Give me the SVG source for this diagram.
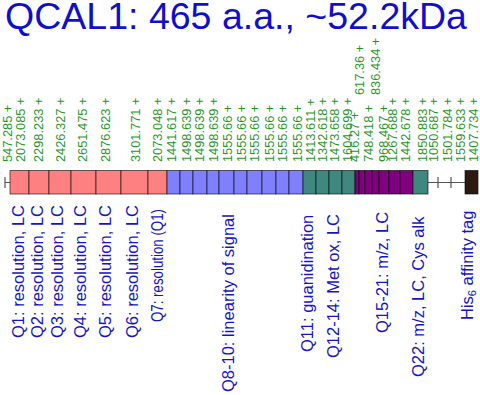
<svg xmlns="http://www.w3.org/2000/svg" width="480" height="395" viewBox="0 0 480 395">
<style>
.t{font-family:"Liberation Sans",Arial,sans-serif;font-size:36px;fill:#1010c8}
.g{font-family:"Liberation Sans",Arial,sans-serif;font-size:12.8px;fill:#1f951f}
.b{font-family:"Liberation Sans",Arial,sans-serif;font-size:16.5px;fill:#1414c8}
.seg rect{stroke:#000;stroke-opacity:0.6;stroke-width:1}
.pk{fill:#ff8080}.bl{fill:#8080ff}.tl{fill:#3f8880}.pu{fill:#800080}.hs{fill:#2b1a0d}
.ln{stroke:#555;stroke-width:1.2;fill:none}
</style>
<rect width="480" height="395" fill="#fff"/>
<text class="t" x="5" y="29" textLength="462" lengthAdjust="spacingAndGlyphs">QCAL1: 465 a.a., ~52.2kDa</text>

<g id="connectors">
<path class="ln" d="M5,177V188M5,182.5H10"/>
<path class="ln" d="M428,182.5H465M438,177V188M451,177V188"/>
</g>

<g class="seg">
<g id="q1"><rect class="pk" x="10" y="170.5" width="19" height="23.5"/></g>
<g id="q2"><rect class="pk" x="29" y="170.5" width="20" height="23.5"/></g>
<g id="q3"><rect class="pk" x="49" y="170.5" width="22" height="23.5"/></g>
<g id="q4"><rect class="pk" x="71" y="170.5" width="25" height="23.5"/></g>
<g id="q5"><rect class="pk" x="96" y="170.5" width="25" height="23.5"/></g>
<g id="q6"><rect class="pk" x="121" y="170.5" width="27" height="23.5"/></g>
<g id="q7"><rect class="pk" x="148" y="170.5" width="19" height="23.5"/></g>
<g id="q8-10">
<rect class="bl" x="167" y="170.5" width="13" height="23.5"/>
<rect class="bl" x="180" y="170.5" width="13" height="23.5"/>
<rect class="bl" x="193" y="170.5" width="14" height="23.5"/>
<rect class="bl" x="207" y="170.5" width="12" height="23.5"/>
<rect class="bl" x="219" y="170.5" width="15" height="23.5"/>
<rect class="bl" x="234" y="170.5" width="13" height="23.5"/>
<rect class="bl" x="247" y="170.5" width="15" height="23.5"/>
<rect class="bl" x="262" y="170.5" width="14" height="23.5"/>
<rect class="bl" x="276" y="170.5" width="13" height="23.5"/>
<rect class="bl" x="289" y="170.5" width="14" height="23.5"/>
</g>
<g id="q11"><rect class="tl" x="303" y="170.5" width="13" height="23.5"/></g>
<g id="q12-14">
<rect class="tl" x="316" y="170.5" width="13" height="23.5"/>
<rect class="tl" x="329" y="170.5" width="13" height="23.5"/>
<rect class="tl" x="342" y="170.5" width="13" height="23.5"/>
</g>
<g id="q15-21">
<rect class="pu" x="355" y="170.5" width="4" height="23.5"/>
<rect class="pu" x="359" y="170.5" width="6" height="23.5"/>
<rect class="pu" x="365" y="170.5" width="7" height="23.5"/>
<rect class="pu" x="372" y="170.5" width="7" height="23.5"/>
<rect class="pu" x="379" y="170.5" width="10" height="23.5"/>
<rect class="pu" x="389" y="170.5" width="11" height="23.5"/>
<rect class="pu" x="400" y="170.5" width="13" height="23.5"/>
</g>
<g id="q22"><rect class="tl" x="413" y="170.5" width="15" height="23.5"/></g>
<g id="his6"><rect class="hs" x="465" y="170.5" width="13" height="23.5"/></g>
</g>

<g id="masses">
<text class="g" transform="translate(12.3,162) rotate(-90)">547.285 +</text>
<text class="g" transform="translate(24.5,162) rotate(-90)">2073.085 +</text>
<text class="g" transform="translate(42.5,162) rotate(-90)">2298.233 +</text>
<text class="g" transform="translate(64.5,162) rotate(-90)">2426.327 +</text>
<text class="g" transform="translate(86.5,162) rotate(-90)">2651.475 +</text>
<text class="g" transform="translate(109.5,162) rotate(-90)">2876.623 +</text>
<text class="g" transform="translate(139.5,162) rotate(-90)">3101.771 +</text>
<text class="g" transform="translate(161.5,162) rotate(-90)">2073.048 +</text>
<text class="g" transform="translate(175.5,162) rotate(-90)">1441.617 +</text>
<text class="g" transform="translate(190.5,162) rotate(-90)">1498.639 +</text>
<text class="g" transform="translate(203.5,162) rotate(-90)">1498.639 +</text>
<text class="g" transform="translate(217.5,162) rotate(-90)">1498.639 +</text>
<text class="g" transform="translate(231.5,162) rotate(-90)">1555.66 +</text>
<text class="g" transform="translate(245.5,162) rotate(-90)">1555.66 +</text>
<text class="g" transform="translate(258.5,162) rotate(-90)">1555.66 +</text>
<text class="g" transform="translate(273.5,162) rotate(-90)">1555.66 +</text>
<text class="g" transform="translate(286.5,162) rotate(-90)">1555.66 +</text>
<text class="g" transform="translate(301.5,162) rotate(-90)">1555.66 +</text>
<text class="g" transform="translate(314.5,162) rotate(-90)">1413.611 +</text>
<text class="g" transform="translate(326.5,162) rotate(-90)">1342.618 +</text>
<text class="g" transform="translate(338.5,162) rotate(-90)">1473.658 +</text>
<text class="g" transform="translate(352,162) rotate(-90)">1604.699 +</text>
<text class="g" transform="translate(358.5,162) rotate(-90)">416.27 +</text>
<text class="g" transform="translate(363.5,95) rotate(-90)">617.36 +</text>
<text class="g" transform="translate(372.5,162) rotate(-90)">748.418 +</text>
<text class="g" transform="translate(379.5,95) rotate(-90)">836.434 +</text>
<text class="g" transform="translate(387.5,162) rotate(-90)">968.467 +</text>
<text class="g" transform="translate(396.5,162) rotate(-90)">1267.688 +</text>
<text class="g" transform="translate(409.5,162) rotate(-90)">1442.678 +</text>
<text class="g" transform="translate(426.5,162) rotate(-90)">1850.883 +</text>
<text class="g" transform="translate(437.5,162) rotate(-90)">1050.687 +</text>
<text class="g" transform="translate(451.5,162) rotate(-90)">1501.784 +</text>
<text class="g" transform="translate(464.5,162) rotate(-90)">1559.633 +</text>
<text class="g" transform="translate(477.5,162) rotate(-90)">1407.734 +</text>
</g>

<g id="labels">
<text class="b" transform="translate(23.5,338) rotate(-90)">Q1: resolution, LC</text>
<text class="b" transform="translate(43,338) rotate(-90)">Q2: resolution, LC</text>
<text class="b" transform="translate(63,338) rotate(-90)">Q3: resolution, LC</text>
<text class="b" transform="translate(86,338) rotate(-90)">Q4: resolution, LC</text>
<text class="b" transform="translate(111,338) rotate(-90)">Q5: resolution, LC</text>
<text class="b" transform="translate(138,338) rotate(-90)">Q6: resolution, LC</text>
<text class="b" transform="translate(163,322) rotate(-90)" textLength="113" lengthAdjust="spacingAndGlyphs">Q7: resolution (Q1)</text>
<text class="b" transform="translate(234,392) rotate(-90)">Q8-10: linearity of signal</text>
<text class="b" transform="translate(313,352) rotate(-90)">Q11: guanidination</text>
<text class="b" transform="translate(339,358) rotate(-90)">Q12-14: Met ox, LC</text>
<text class="b" transform="translate(388,333) rotate(-90)">Q15-21: m/z, LC</text>
<text class="b" transform="translate(424,377) rotate(-90)">Q22: m/z, LC, Cys alk</text>
<text class="b" transform="translate(473,320) rotate(-90)">His<tspan font-size="11" dy="3">6</tspan><tspan dy="-3"> affinity tag</tspan></text>
</g>
</svg>
